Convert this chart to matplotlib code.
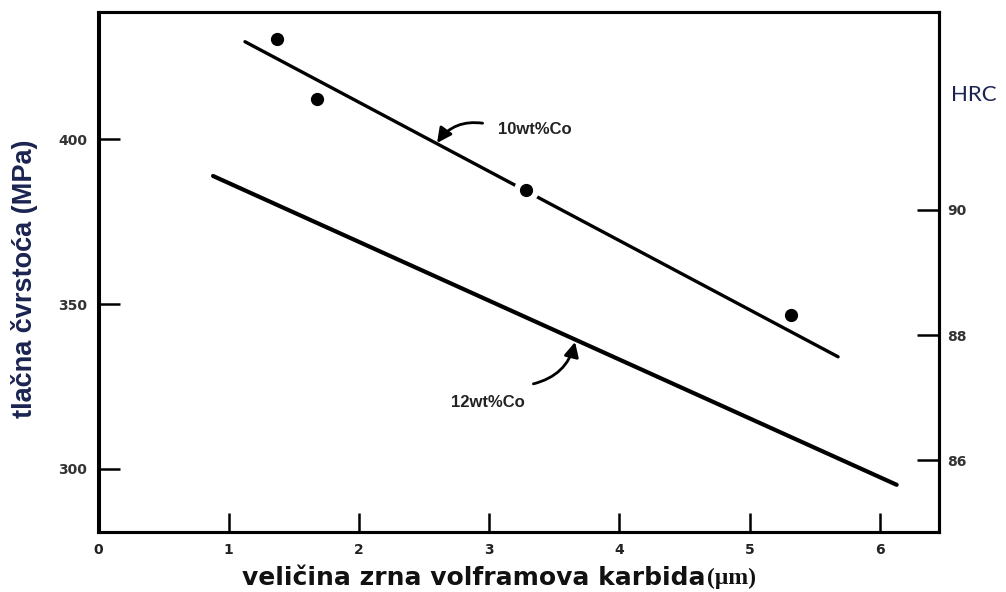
import numpy as np
import matplotlib
matplotlib.use('Agg')
import matplotlib.pyplot as plt

# fitted lines (endpoints)
co10_x = [1.125, 5.68]
co10_y = [429.5, 334.0]
co12_x = [0.88, 6.13]
co12_y = [388.8, 295.2]

# measured points for 10wt%Co
pts_x = [1.37, 1.68, 3.28, 5.32]
pts_y = [430.3, 412.1, 384.5, 346.7]

x_ticks = [0, 1, 2, 3, 4, 5, 6]
mpa_ticks = [300, 350, 400]
hrc_ticks = [86, 88, 90]

fig = plt.figure(figsize=(10.06, 5.92), dpi=100)
ax = fig.add_axes([98.5 / 1006, 60 / 592, (939 - 98.5) / 1006, 520 / 592])
ax2 = ax.twinx()

ax.plot(co10_x, co10_y, color='black', lw=2.4, solid_capstyle='round', zorder=2)
ax.plot(co12_x, co12_y, color='black', lw=3.0, solid_capstyle='round', zorder=2)
ax.plot(pts_x, pts_y, 'o', ms=17, color='white', zorder=3)
ax.plot(pts_x, pts_y, 'o', ms=8.5, color='black', zorder=4)

ax.set_xlim(0, 6.455)
ax.set_ylim(280.9, 438.5)
ax2.set_ylim(84.86, 93.15)

for a in (ax, ax2):
    for s in a.spines.values():
        s.set_linewidth(2.2)

tick_font = dict(family='DejaVu Sans', weight='bold', size=10)
ax.set_yticks(mpa_ticks)
ax.set_yticklabels([str(v) for v in mpa_ticks], color='#333333', **tick_font)
ax.tick_params(axis='y', direction='in', length=15, width=1.8, pad=8)
ax2.set_yticks(hrc_ticks)
ax2.set_yticklabels([str(v) for v in hrc_ticks], color='#333333', **tick_font)
ax2.tick_params(axis='y', direction='in', length=16, width=1.8, pad=6)

ax.set_xticks(x_ticks)
ax.set_xticklabels([str(v) for v in x_ticks], family=['Liberation Sans Narrow', 'DejaVu Sans'],
                   weight='bold', size=10, color='#222222')
ax.tick_params(axis='x', direction='in', length=14, width=1.8, pad=8)

ax.set_ylabel('tlačna čvrstoća (MPa)', family='Liberation Sans', weight='bold',
              size=19.5, color='#1b2350')
ax.yaxis.set_label_coords(-0.072, 0.487)

fig.text(0.945, 0.84, 'HRC', family='Lato', size=16, color='#1b2350', ha='left', va='center')

fig.text(705 / 1006, 14 / 592, 'veličina zrna volframova karbida',
         family=['Liberation Sans Narrow', 'DejaVu Sans'], weight='bold', size=18,
         ha='right', va='center', color='#111111')
fig.text(707 / 1006, 14 / 592, '(μm)', family='Liberation Serif', weight='bold', size=17,
         ha='left', va='center', color='#111111')

arrow = dict(arrowstyle='-|>', color='black', lw=2, mutation_scale=22,
             connectionstyle='arc3,rad=0.3', shrinkA=0, shrinkB=0)
ax.annotate('', xy=(2.60, 398.8), xytext=(2.95, 404.8), arrowprops=arrow)
ax.annotate('', xy=(3.66, 338.5), xytext=(3.34, 325.8), arrowprops=arrow)
ax.text(3.07, 403.0, '10wt%Co', family='Liberation Sans', weight='bold', size=12,
        color='#222222', va='center')
ax.text(2.71, 320.0, '12wt%Co', family='Liberation Sans', weight='bold', size=12,
        color='#222222', va='center')

fig.savefig('out.png', dpi=100, facecolor='white')
